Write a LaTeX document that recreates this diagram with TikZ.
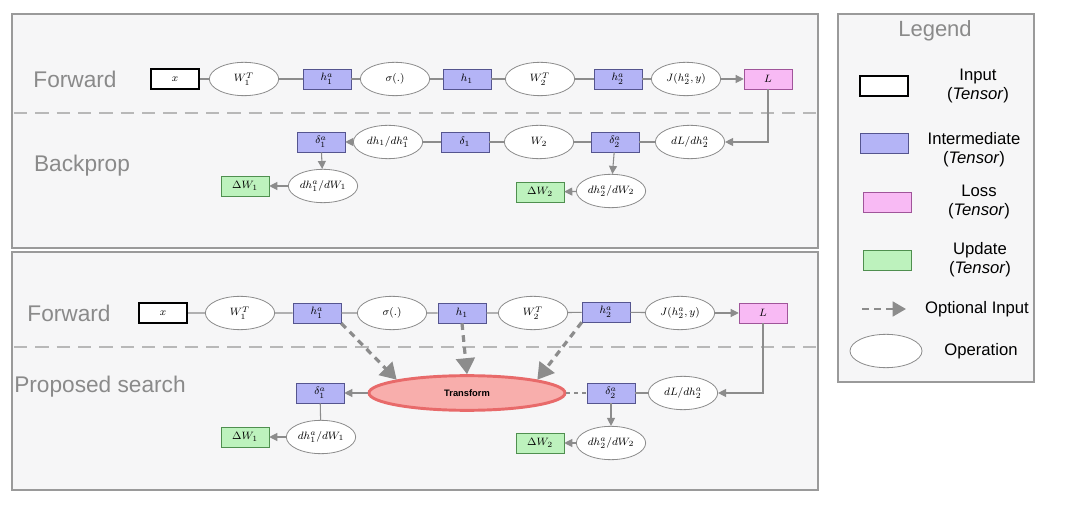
\documentclass[tikz,border=0pt]{standalone}
\usepackage{fontspec}
\setsansfont{Liberation Sans}
\usetikzlibrary{shapes.geometric,arrows.meta,positioning}
\definecolor{panelbg}{HTML}{F6F6F7}
\definecolor{panelgray}{HTML}{9A9A9A}
\definecolor{labelgray}{HTML}{8A8A8A}
\definecolor{wiregray}{HTML}{8C8C8C}
\definecolor{interfill}{HTML}{B4B4F6}
\definecolor{interdraw}{HTML}{55558F}
\definecolor{lossfill}{HTML}{F8BAF4}
\definecolor{lossdraw}{HTML}{A0559A}
\definecolor{updfill}{HTML}{BDF2BD}
\definecolor{upddraw}{HTML}{4F8F4F}
\definecolor{tffill}{HTML}{F8AEAC}
\definecolor{tfdraw}{HTML}{E86A6A}
\begin{document}
\begin{tikzpicture}[x=0.75pt, y=-0.75pt,
  panel/.style={draw=panelgray, line width=2.2pt, fill=panelbg},
  tensor/.style={rectangle, draw, minimum width=36pt, minimum height=15pt, inner sep=1pt, font=\footnotesize},
  inputbox/.style={tensor, line width=1.5pt, fill=white},
  interbox/.style={tensor, draw=interdraw, fill=interfill},
  lossbox/.style={tensor, draw=lossdraw, fill=lossfill},
  updbox/.style={tensor, draw=upddraw, fill=updfill},
  op/.style={ellipse, draw=wiregray, line width=0.6pt, fill=white, minimum width=52pt, minimum height=25pt, inner sep=0pt, font=\footnotesize},
  wire/.style={draw=wiregray, line width=0.8pt},
  flow/.style={wire, -{Triangle[width=6pt,length=6pt]}},
  optional/.style={draw=wiregray, line width=2.4pt, dash pattern=on 5pt off 4pt, -{Triangle[width=14pt,length=12pt]}},
  lbl/.style={font=\sffamily\fontsize{17}{19}\selectfont, text=labelgray},
  legtext/.style={font=\sffamily\fontsize{12.5}{14}\selectfont, align=center}]
  \useasboundingbox (0,0) rectangle (1080,505);
  % panels
  \draw[panel] (12,14) rectangle (818,248);
  \draw[panel] (12,252) rectangle (818,490);
  \draw[panel] (838,14) rectangle (1034,382);
  \draw[panelgray!70, line width=1.5pt, dash pattern=on 10pt off 6pt] (14,113) -- (816,113);
  \draw[panelgray!70, line width=1.5pt, dash pattern=on 10pt off 6pt] (14,347) -- (816,347);
  \node[lbl] at (75,79) {Forward};
  \node[lbl] at (82,166) {Backprop};
  \node[lbl] at (69,313) {Forward};
  \node[lbl] at (100,387) {Proposed search};

  % top: forward
  \node[inputbox] (x1) at (175,79) {$x$};
  \node[op] (wa1) at (244,79) {$W_1^T$};
  \node[interbox] (ha1) at (327,79) {$h_1^a$};
  \node[op] (sg1) at (395,79) {$\sigma(.)$};
  \node[interbox] (h1) at (467,79) {$h_1$};
  \node[op] (wb1) at (540,79) {$W_2^T$};
  \node[interbox] (hb1) at (618,79) {$h_2^a$};
  \node[op] (j1) at (686,79) {$J(h_2^a,y)$};
  \node[lossbox] (L1) at (768,79) {$L$};
  \draw[wire] (x1) -- (wa1) -- (ha1) -- (sg1) -- (h1) -- (wb1) -- (hb1) -- (j1);
  \draw[flow] (j1) -- (L1);

  % top: backprop
  \node[interbox] (da1) at (321,142) {$\delta_1^a$};
  \node[op] (dd1) at (388,142) {$dh_1/dh_1^a$};
  \node[interbox] (d1) at (465,142) {$\delta_1$};
  \node[op] (w21) at (539,142) {$W_2$};
  \node[interbox] (db1) at (615,142) {$\delta_2^a$};
  \node[op] (dl1) at (690,142) {$dL/dh_2^a$};
  \node[op] (gw11) at (323,186) {$dh_1^a/dW_1$};
  \node[updbox] (up11) at (245,186) {$\Delta W_1$};
  \node[op] (gw21) at (611,191) {$dh_2^a/dW_2$};
  \node[updbox] (up21) at (540,192) {$\Delta W_2$};
  \draw[flow] (L1) |- (dl1);
  \draw[wire] (dl1) -- (db1) -- (w21) -- (d1) -- (dd1);
  \draw[flow] (dd1) -- (da1);
  \draw[flow] (da1) -- (gw11);
  \draw[flow] (gw11) -- (up11);
  \draw[flow] (db1) -- (gw21);
  \draw[flow] (gw21) -- (up21);

  % bottom: forward
  \node[inputbox] (x2) at (163,313) {$x$};
  \node[op] (wa2) at (240,313) {$W_1^T$};
  \node[interbox] (ha2) at (317,313) {$h_1^a$};
  \node[op] (sg2) at (392,313) {$\sigma(.)$};
  \node[interbox] (h2) at (462,313) {$h_1$};
  \node[op] (wb2) at (533,313) {$W_2^T$};
  \node[interbox] (hb2) at (606,312) {$h_2^a$};
  \node[op] (j2) at (680,313) {$J(h_2^a,y)$};
  \node[lossbox] (L2) at (763,313) {$L$};
  \draw[wire] (x2) -- (wa2) -- (ha2) -- (sg2) -- (h2) -- (wb2) -- (hb2) -- (j2);
  \draw[flow] (j2) -- (L2);

  % bottom: proposed search
  \node[ellipse, draw=tfdraw, line width=2.2pt, fill=tffill, minimum width=147pt, minimum height=26pt,
        font=\sffamily\bfseries\scriptsize] (tf) at (467,393) {Transform};
  \node[interbox] (da2) at (320,393) {$\delta_1^a$};
  \node[interbox] (db2) at (611,393) {$\delta_2^a$};
  \node[op] (dl2) at (683,393) {$dL/dh_2^a$};
  \node[op] (gw12) at (321,437) {$dh_1^a/dW_1$};
  \node[updbox] (up12) at (245,437) {$\Delta W_1$};
  \node[op] (gw22) at (611,443) {$dh_2^a/dW_2$};
  \node[updbox] (up22) at (540,443) {$\Delta W_2$};
  \draw[optional] (ha2.south east) -- (tf.north west);
  \draw[optional] (h2.south) -- (tf.north);
  \draw[optional] (hb2.south west) -- (tf.north east);
  \draw[wiregray, line width=1.5pt, dash pattern=on 3pt off 3pt] (tf) -- (db2);
  \draw[flow] (tf) -- (da2);
  \draw[flow] (L2) |- (dl2);
  \draw[wire] (dl2) -- (db2);
  \draw[wire] (da2) -- (gw12);
  \draw[flow] (gw12) -- (up12);
  \draw[flow] (db2) -- (gw22);
  \draw[flow] (gw22) -- (up22);

  % legend
  \node[font=\sffamily\fontsize{16.5}{18}\selectfont, text=labelgray] at (935,31) {Legend};
  \node[inputbox] (kin) at (884,86) {};
  \node[legtext] at (978,86) {Input\\(\textit{Tensor})};
  \node[interbox] (kmid) at (884,143) {};
  \node[legtext] at (974,150) {Intermediate\\(\textit{Tensor})};
  \node[lossbox] (kloss) at (887,202) {};
  \node[legtext] at (979,202) {Loss\\(\textit{Tensor})};
  \node[updbox] (kupd) at (887,260) {};
  \node[legtext] at (980,260) {Update\\(\textit{Tensor})};
  \coordinate (kopt0) at (862,309);
  \coordinate (kopt1) at (906,309);
  \draw[optional, line width=2pt, -{Triangle[width=11pt,length=10pt]}] (kopt0) -- (kopt1);
  \node[legtext] at (977,309) {Optional Input};
  \node[op, minimum width=54pt] (kop) at (886,351) {};
  \node[legtext] at (981,351) {Operation};
\end{tikzpicture}
\end{document}
